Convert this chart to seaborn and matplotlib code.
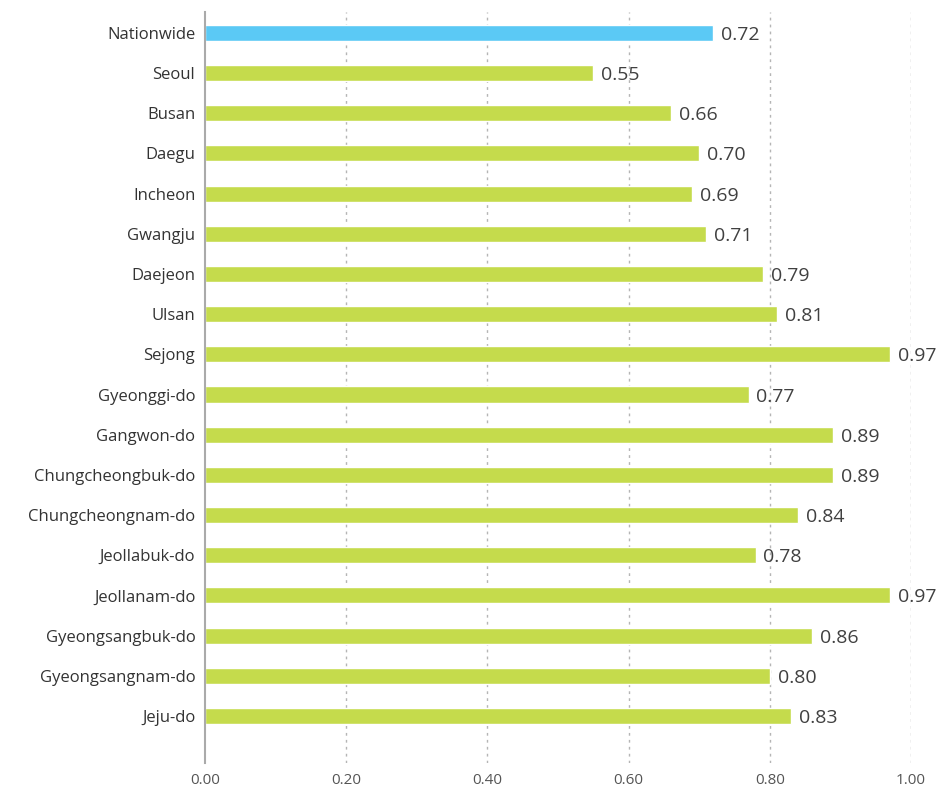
import matplotlib
matplotlib.use("Agg")
import matplotlib.pyplot as plt
import seaborn as sns
import pandas as pd

regions = ["Nationwide", "Seoul", "Busan", "Daegu", "Incheon", "Gwangju", "Daejeon",
           "Ulsan", "Sejong", "Gyeonggi-do", "Gangwon-do", "Chungcheongbuk-do",
           "Chungcheongnam-do", "Jeollabuk-do", "Jeollanam-do", "Gyeongsangbuk-do",
           "Gyeongsangnam-do", "Jeju-do"]
values = [0.72, 0.55, 0.66, 0.70, 0.69, 0.71, 0.79, 0.81, 0.97, 0.77, 0.89, 0.89,
          0.84, 0.78, 0.97, 0.86, 0.80, 0.83]
groups = ["Nationwide"] + ["Region"] * (len(regions) - 1)
xticks = [0.0, 0.2, 0.4, 0.6, 0.8, 1.0]

df = pd.DataFrame({"region": regions, "value": values, "group": groups})

sns.set_theme(style="white")
plt.rcParams["font.family"] = ["Open Sans", "DejaVu Sans"]

fig = plt.figure(figsize=(9.38, 7.88), dpi=100)
ax = fig.add_axes([205/938, 1-763/788, (911-205)/938, (763-12)/788])

sns.barplot(data=df, x="value", y="region", hue="group",
            palette={"Nationwide": "#5BC9F5", "Region": "#C5DB4C"},
            width=0.4, dodge=False, legend=False, ax=ax, saturation=1)

for i, v in enumerate(values):
    ax.text(v + 0.011, i + 0.05, f"{v:.2f}", va="center", ha="left",
            fontsize=14, color="#404040")

ax.set_xlim(0, 1.0)
ax.set_ylim(18.17, -0.52)
ax.set_xticks(xticks)
ax.set_xticklabels([f"{t:.2f}" for t in xticks], fontsize=11, color="#555555")
ax.tick_params(axis="y", labelsize=12, labelcolor="#333333", length=0, pad=7)
ax.tick_params(axis="x", length=0, pad=7)
ax.set_xlabel("")
ax.set_ylabel("")

for t in xticks[1:]:
    ax.axvline(t, color="#b5b5b5", linestyle=(0, (2, 3)), linewidth=1, zorder=0)

for s in ["top", "right", "bottom"]:
    ax.spines[s].set_visible(False)
ax.spines["left"].set_color("#aaaaaa")
ax.spines["left"].set_linewidth(1.5)

fig.savefig("out.png", dpi=100)
